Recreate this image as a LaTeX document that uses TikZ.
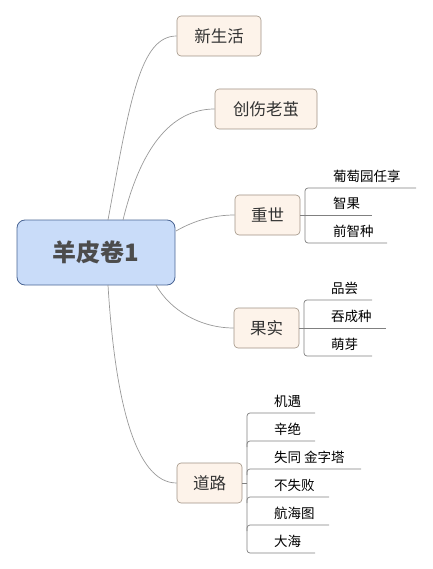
\documentclass[tikz,border=0pt]{standalone}
\usepackage{fontspec}
\setmainfont{Noto Sans CJK SC}
\definecolor{rootfill}{HTML}{C9DCF9}
\definecolor{rootdraw}{HTML}{4A6594}
\definecolor{topfill}{HTML}{FDF3EA}
\definecolor{topdraw}{HTML}{A09284}
\definecolor{conn}{HTML}{999999}
\definecolor{leafc}{HTML}{808080}
\tikzset{
  rootbox/.style={draw=rootdraw, fill=rootfill, rounded corners=8pt, line width=0.8pt,
    minimum width=158pt, minimum height=65pt, inner sep=0pt,
    font=\fontsize{24}{28}\selectfont\bfseries, text=black!70},
  topicbox/.style={draw=topdraw, fill=topfill, rounded corners=4pt, line width=0.6pt,
    minimum height=40pt, inner sep=0pt, font=\fontsize{16.5}{20}\selectfont, text=black!80},
  leaf/.style={anchor=base west, inner sep=0pt, font=\fontsize{13.5}{16}\selectfont, text=black},
  conline/.style={draw=conn, line width=0.7pt},
  leafline/.style={draw=leafc, line width=0.7pt},
}
\begin{document}
\begin{tikzpicture}[x=1pt,y=-1pt]
\useasboundingbox (0,0) rectangle (432,569);
% root
\node[rootbox] (root) at (96,252.5) {羊皮卷1};
% topics
\node[topicbox, minimum width=84pt] (t1) at (219,36) {新生活};
\node[topicbox, minimum width=102pt] (t2) at (266,109) {创伤老茧};
\node[topicbox, minimum width=65pt] (t3) at (267.5,215) {重世};
\node[topicbox, minimum width=65pt] (t4) at (266.5,328) {果实};
\node[topicbox, minimum width=65pt] (t5) at (209.5,483) {道路};
% root connectors
\coordinate (r1) at (108,220);
\coordinate (r2) at (123,220);
\coordinate (r3) at (176,231);
\coordinate (r4) at (156,285);
\coordinate (r5) at (108,285);
\draw[conline] (r1) .. controls (130,100) and (140,36) .. (t1.west);
\draw[conline] (r2) .. controls (140,150) and (170,109) .. (t2.west);
\draw[conline] (r3) .. controls (195,220) and (215,215) .. (t3.west);
\draw[conline] (r4) .. controls (170,310) and (200,328) .. (t4.west);
\draw[conline] (r5) .. controls (115,400) and (135,483) .. (t5.west);
% group 重世
\node[leaf] (a1) at (333,181.5) {葡萄园任享};
\node[leaf] (a2) at (333,208.5) {智果};
\node[leaf] (a3) at (333,236.5) {前智种};
\coordinate (ua1) at (416,188);
\coordinate (ua2) at (372,215);
\coordinate (ua3) at (387,243);
\draw[leafline] (t3.east) -- (ua2);
\draw[leafline, rounded corners=3pt] (ua1) -- (305,188) -- (305,243) -- (ua3);
% group 果实
\node[leaf] (b1) at (331,293.5) {品尝};
\node[leaf] (b2) at (331,321.5) {吞成种};
\node[leaf] (b3) at (331,349.5) {萌芽};
\coordinate (ub1) at (372,300);
\coordinate (ub2) at (386,328);
\coordinate (ub3) at (372,356);
\draw[leafline] (t4.east) -- (ub2);
\draw[leafline, rounded corners=3pt] (ub1) -- (304,300) -- (304,356) -- (ub3);
% group 道路
\node[leaf] (c1) at (274,406.5) {机遇};
\node[leaf] (c2) at (274,434.5) {辛绝};
\node[leaf] (c3) at (274,462.5) {失同 金字塔};
\node[leaf] (c4) at (274,490.5) {不失败};
\node[leaf] (c5) at (274,518.5) {航海图};
\node[leaf] (c6) at (274,546.5) {大海};
\coordinate (uc1) at (315,413);
\coordinate (uc2) at (315,441);
\coordinate (uc3) at (361,469);
\coordinate (uc4) at (329,497);
\coordinate (uc5) at (329,525);
\coordinate (uc6) at (315,553);
\coordinate (cb) at (247,483);
\draw[leafline] (t5.east) -- (cb);
\draw[leafline, rounded corners=3pt] (uc1) -- (247,413) -- (247,553) -- (uc6);
\draw[leafline, rounded corners=3pt] (uc2) -- (247,441) -- (247,447);
\draw[leafline, rounded corners=3pt] (uc3) -- (247,469) -- (247,475);
\draw[leafline, rounded corners=3pt] (uc4) -- (247,497) -- (247,503);
\draw[leafline, rounded corners=3pt] (uc5) -- (247,525) -- (247,531);
\end{tikzpicture}
\end{document}
